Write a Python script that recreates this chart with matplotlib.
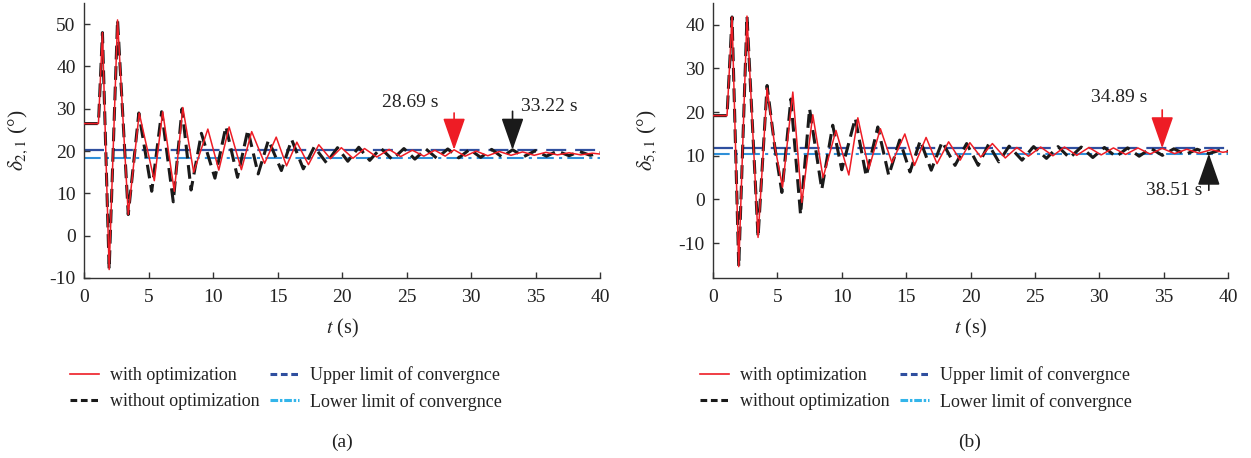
import matplotlib
matplotlib.use("Agg")
import matplotlib.pyplot as plt
from matplotlib.lines import Line2D

plt.rcParams['font.family'] = ['Liberation Serif', 'DejaVu Serif']
plt.rcParams['mathtext.fontset'] = 'stix'
plt.rcParams['axes.unicode_minus'] = False

# ---------------- data ----------------
# Panel (a): delta_2,1
ta_opt = [0, 1.12, 1.43, 1.95, 2.6, 3.43, 4.28, 5.45, 6.1, 7.0, 7.66, 8.5, 9.6, 10.45, 11.25,
          12.2, 13.0, 14.0, 14.9, 15.7, 16.5, 17.4, 18.2, 19.1, 19.95, 20.85, 21.75, 22.7, 23.65,
          24.55, 25.45, 26.35, 27.2, 28.0, 28.69, 29.55, 30.4, 31.3, 32.2, 33.1, 34.0, 34.9, 35.8,
          36.7, 37.6, 38.5, 39.4, 40.0]
ya_opt = [26.5, 26.5, 48.0, -8.0, 51.0, 5.0, 29.0, 13.0, 29.3, 10.5, 30.3, 15.0, 25.2, 15.5, 25.7,
          15.6, 24.6, 17.1, 23.3, 16.5, 22.1, 16.8, 21.5, 18.2, 20.8, 18.3, 20.6, 18.6, 20.4,
          18.7, 20.2, 18.8, 20.2, 18.8, 20.3, 18.8, 20.0, 18.9, 19.9, 19.0, 19.8, 19.0, 19.7,
          19.1, 19.6, 19.1, 19.5, 19.3]
ta_no = [0, 1.12, 1.43, 1.95, 2.6, 3.43, 4.25, 5.25, 6.02, 6.92, 7.6, 8.3, 9.1, 10.15, 11.0, 11.9,
         12.7, 13.5, 14.3, 15.3, 16.1, 17.0, 17.85, 18.8, 19.65, 20.45, 21.3, 22.15, 23.0, 23.9,
         24.8, 25.65, 26.5, 27.35, 28.2, 29.05, 29.9, 30.75, 31.6, 32.4, 33.22, 34.1, 35.0, 35.85,
         36.7, 37.6, 38.4, 39.25, 40.0]
ya_no = [26.5, 26.5, 48.0, -8.0, 51.0, 5.0, 29.0, 10.5, 29.3, 8.0, 30.0, 10.8, 24.2, 13.6, 25.8, 13.8,
         25.0, 14.6, 22.6, 15.4, 22.7, 15.8, 21.0, 17.2, 20.8, 17.6, 20.9, 17.8, 20.7, 18.0,
         20.6, 18.1, 20.5, 18.3, 20.5, 18.4, 20.4, 18.5, 20.4, 18.6, 20.3, 18.7, 20.1, 18.8,
         20.0, 18.9, 19.9, 19.0, 19.6]
a_upper = 20.3
a_lower = 18.3
a_marks = [28.69, 33.22]

# Panel (b): delta_5,1
tb_opt = [0, 1.09, 1.48, 2.0, 2.64, 3.5, 4.2, 4.8, 5.4, 6.2, 6.9, 7.75, 8.55, 9.55, 10.55, 11.25,
          12.1, 13.0, 13.9, 14.9, 15.65, 16.55, 17.4, 18.3, 19.2, 19.95, 20.8, 21.7, 22.7, 23.6,
          24.5, 25.45, 26.4, 27.3, 28.25, 29.2, 30.15, 31.1, 32.05, 33.0, 33.95, 34.89, 35.85,
          36.8, 37.75, 38.7, 39.6, 40.0]
yb_opt = [19.2, 19.2, 41.8, -15.4, 42.0, -8.7, 25.5, 12.2, 2.8, 24.6, -0.7, 19.4, 5.0, 15.8, 5.6, 18.7,
          7.0, 16.2, 8.4, 15.0, 7.8, 14.2, 8.2, 13.2, 9.0, 13.0, 9.7, 12.8, 9.5, 11.9,
          9.9, 12.0, 10.0, 12.0, 10.1, 11.9, 10.2, 11.8, 10.3, 11.8, 10.4, 11.7, 10.5,
          11.5, 10.6, 11.4, 10.8, 11.0]
tb_no = [0, 1.09, 1.48, 2.0, 2.64, 3.5, 4.2, 4.8, 5.35, 6.05, 6.8, 7.5, 8.45, 9.3, 10.0, 11.05,
         11.9, 12.8, 13.65, 14.5, 15.3, 16.1, 16.95, 17.8, 18.8, 19.7, 20.6, 21.4, 22.2, 23.0,
         24.0, 24.9, 25.9, 26.8, 27.7, 28.6, 29.5, 30.4, 31.3, 32.2, 33.1, 34.0, 34.9, 35.8,
         36.7, 37.6, 38.51, 39.4, 40.0]
yb_no = [19.2, 19.2, 41.8, -15.4, 42.0, -8.7, 26.1, 12.0, 1.6, 23.0, -3.5, 20.8, 2.3, 17.0, 6.8, 18.6,
         5.3, 16.6, 5.5, 13.6, 6.3, 13.5, 6.7, 13.2, 7.8, 12.8, 7.8, 12.6, 8.6, 12.2,
         9.0, 12.1, 9.4, 12.1, 9.5, 12.0, 9.6, 11.9, 9.8, 11.8, 9.9, 11.7, 10.1, 11.6,
         10.3, 11.5, 10.5, 11.3, 11.0]
b_upper = 11.7
b_lower = 10.5
b_marks = [34.89, 38.51]

x_ticks = [0, 5, 10, 15, 20, 25, 30, 35, 40]
a_yticks = [-10, 0, 10, 20, 30, 40, 50]
b_yticks = [-10, 0, 10, 20, 30, 40]

labels = ["with optimization", "without optimization",
          "Upper limit of convergnce", "Lower limit of convergnce"]

RED = "#ee1c25"
BLACK = "#1a1a1a"
UP = "#2f4f9f"
LOW = "#2f8fd8"
LOW_LEG = "#33b5ea"
TXT = '#222222'
FS = 14

W, H = 1251, 458
fig = plt.figure(figsize=(W / 100, H / 100), dpi=100)

ax_a = fig.add_axes([84 / W, 1 - 278 / H, 516 / W, 275 / H])
ax_b = fig.add_axes([713 / W, 1 - 278 / H, 515 / W, 275 / H])


def style(ax, ylim, yticks, ylabel):
    ax.set_xlim(0, 40)
    ax.set_ylim(*ylim)
    ax.set_xticks(x_ticks)
    ax.set_yticks(yticks)
    for s in ['top', 'right']:
        ax.spines[s].set_visible(False)
    for s in ['left', 'bottom']:
        ax.spines[s].set_linewidth(1.0)
        ax.spines[s].set_color('#333333')
    ax.tick_params(direction='in', length=4, width=1.0, labelsize=FS, colors='#333333',
                   labelcolor=TXT)
    ax.tick_params(axis='x', pad=8)
    ax.tick_params(axis='y', pad=6)
    ax.set_xlabel("$t$ (s)", fontsize=FS + 0.5, labelpad=8, color=TXT)
    ax.set_ylabel(ylabel, fontsize=FS + 1.5, color=TXT, va='center')
    ax.yaxis.set_label_coords(-0.127, 0.5)


def draw(ax, t1, y1, t2, y2, up, low):
    ax.axhline(up, color=UP, lw=1.6, dashes=(9, 4), zorder=1)
    ax.axhline(low, color=LOW, lw=1.5, dashes=(8, 2.5, 1.5, 2.5), zorder=1)
    ax.plot(t2, y2, color=BLACK, lw=2.2, dashes=(4.5, 2.2), zorder=2)
    ax.plot(t1, y1, color=RED, lw=1.1, zorder=3)


def arrow(ax, x, tail, tip, color):
    ax.annotate('', xy=(x, tip), xytext=(x, tail),
                arrowprops=dict(arrowstyle='-|>,head_length=1.0,head_width=0.35',
                                mutation_scale=20, color=color, lw=1.2,
                                shrinkA=0, shrinkB=0), zorder=5)


draw(ax_a, ta_opt, ya_opt, ta_no, ya_no, a_upper, a_lower)
style(ax_a, (-10, 55), a_yticks, r"$\delta_{2,1}$ (°)")
arrow(ax_a, a_marks[0], 29.0, a_upper, RED)
arrow(ax_a, a_marks[1], 29.4, a_upper, BLACK)
ax_a.text(25.3, 31.4, f"{a_marks[0]:.2f} s", ha='center', va='center', fontsize=FS, color=TXT)
ax_a.text(36.1, 30.6, f"{a_marks[1]:.2f} s", ha='center', va='center', fontsize=FS, color=TXT)

draw(ax_b, tb_opt, yb_opt, tb_no, yb_no, b_upper, b_lower)
style(ax_b, (-18, 45), b_yticks, r"$\delta_{5,1}$ (°)")
arrow(ax_b, b_marks[0], 20.5, b_upper, RED)
arrow(ax_b, b_marks[1], 2.1, b_lower, BLACK)
ax_b.text(31.55, 23.4, f"{b_marks[0]:.2f} s", ha='center', va='center', fontsize=FS, color=TXT)
ax_b.text(35.8, 2.1, f"{b_marks[1]:.2f} s", ha='center', va='center', fontsize=FS, color=TXT)

handles = [Line2D([], [], color=RED, lw=1.2),
           Line2D([], [], color=BLACK, lw=2.2, dashes=(2.2, 1.2)),
           Line2D([], [], color=UP, lw=2.2, dashes=(2.2, 1.2)),
           Line2D([], [], color=LOW_LEG, lw=2.2, dashes=(2.5, 0.6, 0.8, 0.6))]

for left_px in (70, 700):
    fig.legend(handles, labels, ncol=2, loc='upper left',
               bbox_to_anchor=(left_px / W, 1 - 366 / H),
               frameon=False, fontsize=13, handlelength=1.6, handletextpad=0.6,
               columnspacing=0.6, labelspacing=0.5, labelcolor=TXT, borderpad=0,
               borderaxespad=0)

fig.text(342 / W, 1 - 442 / H, "(a)", ha='center', va='center', fontsize=FS, color=TXT)
fig.text(970 / W, 1 - 442 / H, "(b)", ha='center', va='center', fontsize=FS, color=TXT)

fig.savefig("out.png", dpi=100)
